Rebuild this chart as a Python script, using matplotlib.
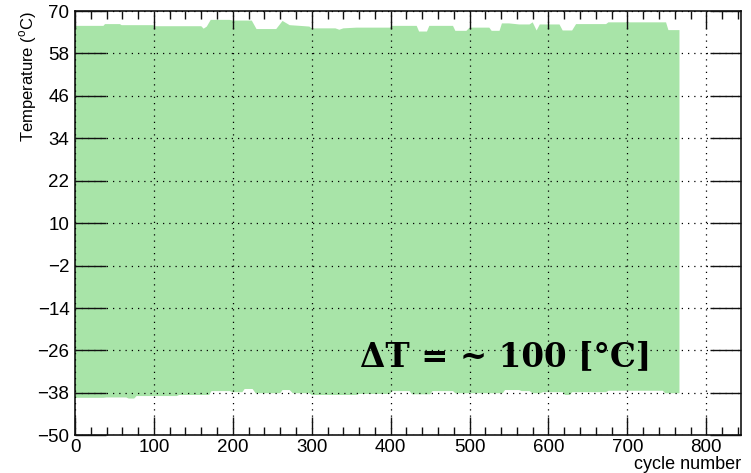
import matplotlib
matplotlib.use('Agg')

import matplotlib.pyplot as plt
from matplotlib.ticker import MultipleLocator, FixedLocator

plt.rcParams['font.family'] = ['Liberation Sans', 'DejaVu Sans']
plt.rcParams['mathtext.fontset'] = 'custom'
plt.rcParams['mathtext.rm'] = 'Liberation Sans'

# upper envelope of the temperature cycles (cycle, deg C)
top_cycle = [0, 36, 38, 57, 59, 99, 101, 160, 163, 167, 172, 196, 200, 224, 230, 255,
             263, 272, 285, 297, 300, 330, 335, 340, 357, 399, 401, 433, 436, 446, 449,
             479, 482, 496, 500, 525, 528, 538, 541, 550, 563, 576, 580, 585, 589, 614,
             618, 630, 635, 673, 676, 749, 752, 766]
top_temp = [65.8, 65.8, 66.3, 66.3, 66.0, 66.0, 65.7, 65.7, 65.0, 65.6, 67.5, 67.5, 67.3,
            67.3, 64.9, 64.9, 67.2, 66.0, 65.8, 65.6, 65.1, 65.1, 64.7, 65.1, 65.3, 65.3,
            65.8, 65.8, 64.2, 64.2, 65.8, 65.8, 64.4, 64.4, 65.3, 65.3, 64.4, 64.4, 66.5,
            66.5, 66.2, 66.2, 66.8, 64.5, 66.2, 66.2, 64.5, 64.5, 66.3, 66.3, 66.8, 66.8,
            64.6, 64.6]

# lower envelope
bot_cycle = [0, 36, 40, 65, 68, 75, 78, 129, 132, 170, 173, 196, 200, 212, 215, 225, 229,
             260, 263, 272, 276, 297, 300, 357, 360, 399, 402, 424, 427, 450, 453, 479,
             482, 542, 545, 563, 566, 576, 580, 590, 593, 618, 621, 627, 630, 673, 676,
             745, 748, 766]
bot_temp = [-39.4, -39.4, -39.3, -39.3, -39.6, -39.6, -38.9, -38.9, -38.6, -38.6, -37.5,
            -37.5, -37.8, -37.8, -36.9, -36.9, -38.1, -38.1, -37.2, -37.2, -38.1, -38.1,
            -38.6, -38.6, -38.3, -38.3, -37.5, -37.5, -38.4, -38.4, -37.5, -37.5, -38.1,
            -38.1, -37.2, -37.2, -37.5, -37.5, -38.1, -38.1, -37.8, -37.8, -38.6, -38.6,
            -37.8, -37.8, -37.4, -37.4, -38.1, -38.1]

y_ticks = [70, 58, 46, 34, 22, 10, -2, -14, -26, -38, -50]

fig = plt.figure(figsize=(7.51, 4.73), dpi=100)
ax = fig.add_axes([0.0999, 0.0797, 0.8868, 0.8970])

ax.fill(top_cycle + bot_cycle[::-1], top_temp + bot_temp[::-1],
        color='#a8e4a8', lw=0, zorder=1)

ax.set_xlim(0, 844)
ax.set_ylim(-50, 70)
ax.xaxis.set_major_locator(MultipleLocator(100))
ax.xaxis.set_minor_locator(MultipleLocator(20))
ax.yaxis.set_major_locator(FixedLocator(y_ticks))
ax.set_yticklabels([str(v).replace('-', '\u2212') for v in y_ticks])

ax.grid(True, which='major', color='black', linestyle=(0, (1, 4)), lw=0.9)
ax.set_axisbelow(False)
ax.tick_params(which='both', direction='in', top=True, right=True,
               labelsize=13.5, width=1.0, color='#111111')
ax.tick_params(axis='x', which='major', length=13, pad=3)
ax.tick_params(axis='x', which='minor', length=6)
ax.tick_params(axis='y', which='major', length=22, pad=4)
for s in ax.spines.values():
    s.set_linewidth(1.1)

ax.set_ylabel(r'Temperature ($^{\rm o}$C)', fontsize=12, loc='top', labelpad=-1)
ax.set_xlabel('cycle number', fontsize=13, loc='right', labelpad=0)

ax.text(361, -30.3, '\u0394T = ~ 100 [\u00b0C]', family='DejaVu Serif',
        fontweight='bold', fontsize=23.5, ha='left', va='baseline')

fig.savefig('out.png', dpi=100)
